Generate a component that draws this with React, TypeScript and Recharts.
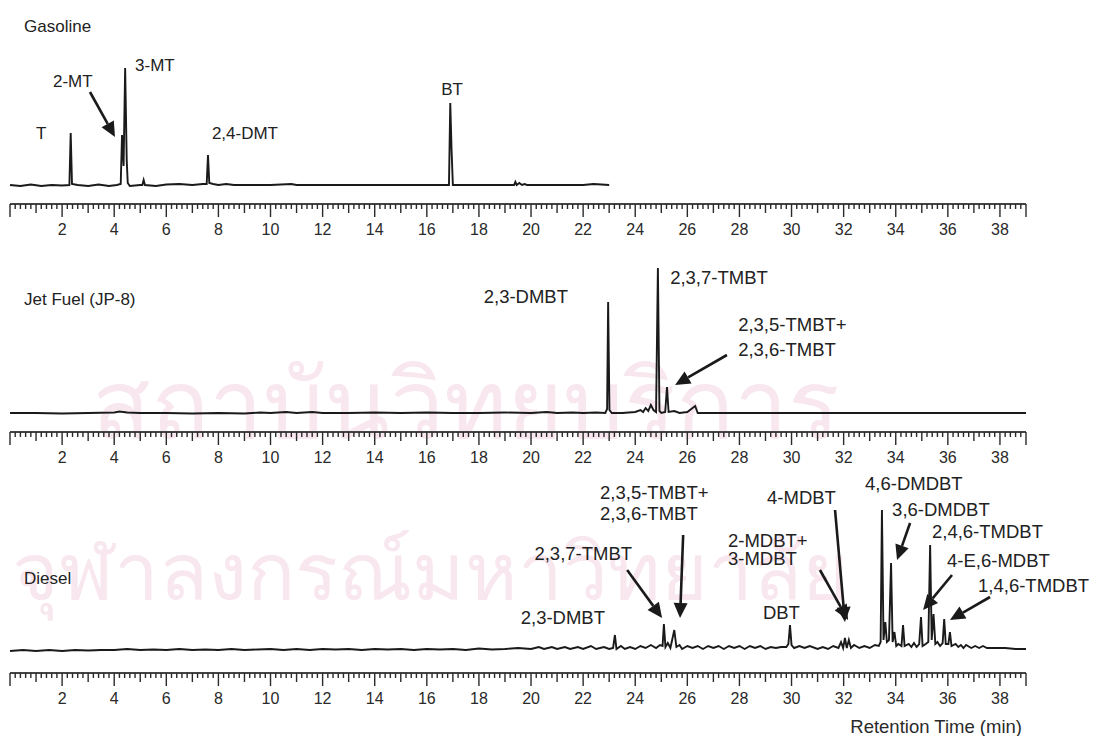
import React from "react";
import { LineChart, Line, XAxis, YAxis, ReferenceDot, ReferenceLine } from "recharts";

// retention time (min), detector response (arbitrary units above baseline)
const gasolineTrace: [number, number][] = [
  [0, 1], [0.4, 0], [0.8, 1.5], [1.2, 0], [1.6, 1], [2.0, 0.5], [2.28, 1], [2.33, 53], [2.38, 2],
  [2.6, 1], [3.0, 0], [3.4, 1.5], [3.8, 0], [4.1, 1], [4.25, 2], [4.3, 51], [4.36, 20], [4.42, 118],
  [4.48, 26], [4.52, 3], [4.6, 0], [5.0, 1], [5.08, 1], [5.13, 6], [5.18, 1], [5.6, 0], [6.0, 1.5],
  [6.5, 2], [7.0, 1], [7.4, 2], [7.55, 2], [7.6, 31], [7.65, 3], [7.8, 2], [8.0, 1], [8.3, 2],
  [8.6, 1], [9.0, 1], [10.0, 1], [10.8, 2], [11.0, 1], [12, 1], [13, 1], [14, 1], [15, 1], [16, 1],
  [16.85, 1], [16.9, 83], [16.95, 36], [17.0, 1], [17.5, 1], [18, 1], [19, 1], [19.35, 1], [19.4, 4],
  [19.45, 1], [19.55, 3], [19.65, 1], [19.75, 2], [19.85, 1], [20.5, 1], [21, 1], [22, 1], [22.4, 2],
  [23, 1],
];

const jetFuelTrace: [number, number][] = [
  [0, 1], [1, 1], [2, 0.5], [3, 1], [4, 1.5], [4.2, 2.5], [4.5, 1.5], [5, 1], [6, 1], [7, 0.5],
  [8, 1], [9, 0.5], [9.6, 1.5], [10, 1], [10.6, 2], [11, 1], [11.6, 2], [12, 1], [13, 1], [14, 1.5],
  [15, 1], [16, 1.5], [17, 1], [18, 1], [19, 1.5], [20, 1], [20.6, 2], [21, 1], [21.6, 1.5], [22, 1],
  [22.5, 1.5], [22.85, 1], [22.92, 5], [22.96, 112], [23.01, 4], [23.1, 1], [23.5, 1], [24.0, 2],
  [24.2, 4], [24.3, 2], [24.4, 6], [24.5, 3], [24.6, 9], [24.7, 4], [24.8, 2], [24.87, 146],
  [24.93, 3], [25.0, 1], [25.15, 2], [25.22, 27], [25.28, 2], [25.5, 3], [25.7, 1], [26.0, 2],
  [26.3, 8], [26.4, 1], [27, 1], [28, 1], [29, 1], [30, 1], [31, 1], [32, 1], [33, 1], [34, 1],
  [35, 1], [36, 1], [37, 1], [38, 1], [39, 1],
];

const dieselTrace: [number, number][] = [
  [0, 1], [0.5, 2], [1, 1], [1.5, 2], [2, 1], [2.5, 2], [3, 1.5], [3.5, 2], [4, 2], [4.5, 3],
  [5, 2], [5.5, 2.5], [6, 2], [6.5, 3], [7, 2], [7.5, 2.5], [8, 2], [8.5, 3], [9, 2], [9.5, 2.5],
  [10, 3], [10.5, 2], [11, 3], [11.5, 2], [12, 3], [12.5, 2.5], [13, 3], [13.5, 2], [14, 3],
  [14.5, 2.5], [15, 3], [15.5, 2], [16, 3], [16.5, 2.5], [17, 3], [17.5, 2], [18, 3.5], [18.5, 2.5],
  [19, 3], [19.5, 4], [20, 3], [20.3, 5], [20.5, 3], [20.8, 5], [21, 3], [21.3, 5], [21.5, 3],
  [21.8, 5], [22, 3], [22.3, 6], [22.5, 3], [22.8, 5], [23, 3], [23.15, 4], [23.22, 17], [23.28, 3],
  [23.45, 6], [23.6, 3], [23.8, 5], [24, 3], [24.2, 6], [24.4, 4], [24.6, 7], [24.8, 4], [24.95, 7],
  [25.05, 6], [25.1, 28], [25.16, 5], [25.25, 9], [25.35, 4], [25.5, 22], [25.58, 5], [25.7, 7],
  [25.8, 3], [26.0, 6], [26.2, 4], [26.4, 6], [26.6, 3], [26.8, 6], [27, 4], [27.2, 6], [27.4, 3],
  [27.6, 6], [27.8, 4], [28.0, 6], [28.2, 3], [28.4, 6], [28.6, 4], [28.8, 6], [29, 3], [29.2, 5],
  [29.4, 4], [29.6, 5], [29.8, 5], [29.88, 8], [29.94, 27], [30.0, 7], [30.1, 4], [30.3, 6],
  [30.5, 4], [30.7, 6], [31, 3], [31.2, 5], [31.4, 3], [31.6, 6], [31.8, 4], [31.9, 10], [31.98, 4],
  [32.05, 14], [32.12, 4], [32.2, 12], [32.28, 4], [32.4, 7], [32.6, 4], [32.8, 6], [33, 4],
  [33.2, 7], [33.35, 6], [33.42, 10], [33.47, 142], [33.53, 12], [33.6, 30], [33.66, 10],
  [33.74, 12], [33.82, 89], [33.88, 10], [33.95, 20], [34.02, 6], [34.1, 8], [34.22, 6],
  [34.28, 27], [34.34, 6], [34.5, 8], [34.6, 5], [34.7, 9], [34.8, 5], [34.9, 8], [34.97, 35],
  [35.03, 6], [35.15, 8], [35.25, 10], [35.32, 107], [35.38, 12], [35.45, 38], [35.52, 8],
  [35.6, 10], [35.7, 6], [35.8, 9], [35.86, 33], [35.92, 8], [36.02, 8], [36.08, 20], [36.14, 6],
  [36.3, 8], [36.4, 5], [36.5, 7], [36.6, 4], [36.7, 7], [36.9, 4], [37.05, 6], [37.2, 4],
  [37.35, 6], [37.5, 4], [37.8, 4], [38.2, 4], [38.6, 3], [39, 3],
];

const rulerLabels = [2, 4, 6, 8, 10, 12, 14, 16, 18, 20, 22, 24, 26, 28, 30, 32, 34, 36, 38];
// minor ticks every 0.2 min from 0 to 39
const rulerTicks = Array.from({ length: 196 }, (_, i) => (i * 2) / 10);

// [text, time, response, anchor]
type Note = [string, number, number, "start" | "end"];
const gasolineNotes: Note[] = [
  ["Gasoline", 0.54, 160, "start"],
  ["T", 1.0, 53, "start"],
  ["2-MT", 1.65, 105, "start"],
  ["3-MT", 4.8, 121, "start"],
  ["2,4-DMT", 7.75, 53, "start"],
  ["BT", 16.55, 97, "start"],
];
const jetFuelNotes: Note[] = [
  ["Jet Fuel (JP-8)", 0.54, 115, "start"],
  ["2,3-DMBT", 21.42, 118, "end"],
  ["2,3,7-TMBT", 25.34, 137, "start"],
  ["2,3,5-TMBT+", 27.95, 90, "start"],
  ["2,3,6-TMBT", 27.95, 65, "start"],
];
const dieselNotes: Note[] = [
  ["Diesel", 0.54, 74, "start"],
  ["2,3-DMBT", 22.84, 35, "end"],
  ["2,3,7-TMBT", 23.88, 99, "end"],
  ["2,3,5-TMBT+", 22.65, 160, "start"],
  ["2,3,6-TMBT", 22.65, 139, "start"],
  ["DBT", 28.9, 40, "start"],
  ["2-MDBT+", 27.56, 112, "start"],
  ["3-MDBT", 27.56, 94, "start"],
  ["4-MDBT", 29.06, 155, "start"],
  ["4,6-DMDBT", 32.82, 169, "start"],
  ["3,6-DMDBT", 33.86, 143, "start"],
  ["2,4,6-TMDBT", 35.39, 121, "start"],
  ["4-E,6-MDBT", 35.97, 92, "start"],
  ["1,4,6-TMDBT", 37.16, 67, "start"],
];

// arrows: [from time, from response, to time, to response]
type Arrow = [number, number, number, number];
const gasolineArrows: Arrow[] = [[3.07, 94, 4.03, 49]];
const jetFuelArrows: Arrow[] = [[27.52, 59, 25.53, 29]];
const dieselArrows: Arrow[] = [
  [23.69, 82, 25.03, 34],
  [25.84, 117, 25.72, 34],
  [31.67, 142, 32.05, 30],
  [31.09, 82, 32.17, 32],
  [34.55, 129, 34.05, 92],
  [36.16, 77, 35.05, 42],
  [37.62, 55, 36.08, 32],
];

const FONT = "'Liberation Sans', Arial, Helvetica, sans-serif";
const INK = "#1a1a1a";
const WATERMARK = "#f8e7ee";

const RulerTick = (props: any) => {
  const { x, y, payload } = props;
  const v = payload.value;
  const whole = Math.abs(v - Math.round(v)) < 1e-6;
  const n = Math.round(v);
  const len = whole ? (n % 2 === 0 || n === 39 ? 13 : 9) : 5;
  return (
    <g>
      <line x1={x} y1={y} x2={x} y2={y + len} stroke="#2a2a2a" strokeWidth={1.4} />
      {whole && rulerLabels.includes(n) && (
        <text x={x} y={y + 25} textAnchor="middle" dominantBaseline="central"
          fontFamily={FONT} fontSize={16} fill="#2a2a2a">
          {n}
        </text>
      )}
    </g>
  );
};

const ArrowShape = (p: any) => {
  const { x1, y1, x2, y2 } = p;
  const dx = x2 - x1;
  const dy = y2 - y1;
  const len = Math.hypot(dx, dy) || 1;
  const ux = dx / len;
  const uy = dy / len;
  const head = 15;
  const half = 7;
  const bx = x2 - ux * head;
  const by = y2 - uy * head;
  return (
    <g>
      <line x1={x1} y1={y1} x2={bx} y2={by} stroke={INK} strokeWidth={2.6} />
      <polygon
        points={`${x2},${y2} ${bx - uy * half},${by + ux * half} ${bx + uy * half},${by - ux * half}`}
        fill={INK}
      />
    </g>
  );
};

type PanelProps = {
  top: number;
  height: number;
  axisHeight: number;
  domain: [number, number];
  trace: [number, number][];
  notes: Note[];
  arrows: Arrow[];
  fontSize: number;
  axisLabel?: string;
};

const Panel = ({ top, height, axisHeight, domain, trace, notes, arrows, fontSize, axisLabel }: PanelProps) => {
  const data = trace.map(([t, v]) => ({ t, v }));
  return (
    <div style={{ position: "absolute", left: 0, top }}>
      <LineChart width={1099} height={height} data={data} margin={{ top: 0, right: 73, bottom: 0, left: 10 }}>
        <XAxis
          dataKey="t"
          type="number"
          domain={[0, 39]}
          ticks={rulerTicks}
          interval={0}
          tick={<RulerTick />}
          tickLine={false}
          tickSize={0}
          tickMargin={0}
          height={axisHeight}
          axisLine={{ stroke: "#444", strokeWidth: 2 }}
          label={
            axisLabel
              ? { value: axisLabel, position: "insideBottomRight", offset: 4, fontSize: 18.5, fill: "#2a2a2a", fontFamily: FONT }
              : undefined
          }
        />
        <YAxis hide type="number" domain={domain} allowDataOverflow />
        <Line type="linear" dataKey="v" stroke={INK} strokeWidth={1.9} dot={false} isAnimationActive={false} />
        {arrows.map(([t1, v1, t2, v2], i) => (
          <ReferenceLine key={"a" + i} segment={[{ x: t1, y: v1 }, { x: t2, y: v2 }]} shape={ArrowShape} />
        ))}
        {notes.map(([text, t, v, anchor], i) => (
          <ReferenceDot
            key={"n" + i}
            x={t}
            y={v}
            r={0}
            shape={(p: any) => (
              <text x={p.cx} y={p.cy} textAnchor={anchor} dominantBaseline="central"
                fontFamily={FONT} fontSize={i === 0 ? 17 : fontSize} fill="#222">
                {text}
              </text>
            )}
          />
        ))}
      </LineChart>
    </div>
  );
};

const App = () => (
  <div style={{ position: "absolute", left: 0, top: 0, width: 1099, height: 736, overflow: "hidden", background: "#fff" }}>
    <div style={{ position: "absolute", left: 92, top: 328, fontSize: 96, color: WATERMARK, fontFamily: "'Noto Sans', 'DejaVu Sans', sans-serif", whiteSpace: "nowrap" }}>
      สถาบันวิทยบริการ
    </div>
    <div style={{ position: "absolute", left: 12, top: 508, fontSize: 80, color: WATERMARK, fontFamily: "'Noto Sans', 'DejaVu Sans', sans-serif", whiteSpace: "nowrap" }}>
      จุฬาลงกรณ์มหาวิทยาลัย
    </div>
    <Panel top={0} height={250} axisHeight={46} domain={[-18, 186]} trace={gasolineTrace} notes={gasolineNotes} arrows={gasolineArrows} fontSize={17} />
    <Panel top={228} height={250} axisHeight={46} domain={[-18, 186]} trace={jetFuelTrace} notes={jetFuelNotes} arrows={jetFuelArrows} fontSize={18.5} />
    <Panel top={469} height={268} axisHeight={64} domain={[-21, 183]} trace={dieselTrace} notes={dieselNotes} arrows={dieselArrows} fontSize={18.5} axisLabel="Retention Time (min)" />
  </div>
);

export default App;
